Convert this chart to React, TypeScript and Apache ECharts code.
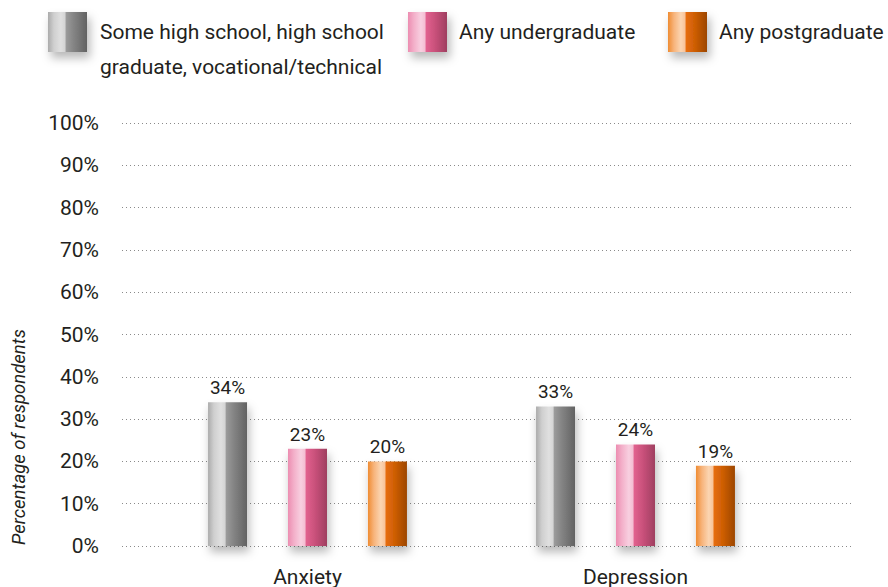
import React, { useEffect, useRef } from "react";
import * as echarts from "echarts";

const categories = ["Anxiety", "Depression"];
const seriesNames = [
  "Some high school, high school\ngraduate, vocational/technical",
  "Any undergraduate",
  "Any postgraduate",
];
const highSchool = [34, 33];
const undergraduate = [23, 24];
const postgraduate = [20, 19];
const yTicks = [0, 10, 20, 30, 40, 50, 60, 70, 80, 90, 100];
const yTitle = "Percentage of respondents";

const FONT = "Roboto, 'Noto Sans', sans-serif";
const TEXT = "#231f20";

const grad = (stops: [number, string][]) =>
  new echarts.graphic.LinearGradient(
    0, 0, 1, 0,
    stops.map(([offset, color]) => ({ offset, color }))
  );

const grayGrad = () =>
  grad([
    [0, "#ababab"],
    [0.15, "#cfcfcf"],
    [0.33, "#e0e0e0"],
    [0.44, "#d4d4d4"],
    [0.46, "#9c9c9c"],
    [0.65, "#858585"],
    [1, "#626262"],
  ]);
const pinkGrad = () =>
  grad([
    [0, "#ec8db1"],
    [0.15, "#f3afc9"],
    [0.33, "#f8cfe0"],
    [0.44, "#f4bdd2"],
    [0.46, "#e2628f"],
    [0.7, "#c8507a"],
    [1, "#9f3f60"],
  ]);
const orangeGrad = () =>
  grad([
    [0, "#ef8c32"],
    [0.15, "#f7b37a"],
    [0.33, "#fbd5b2"],
    [0.44, "#f8c298"],
    [0.46, "#e76d0c"],
    [0.7, "#cc5d05"],
    [1, "#9c4600"],
  ]);

export default function App() {
  const ref = useRef<HTMLDivElement>(null);
  useEffect(() => {
    if (!ref.current) return;
    const chart = echarts.init(ref.current, null, { renderer: "svg" });
    const values = [highSchool, undergraduate, postgraduate];
    const colors = [grayGrad, pinkGrad, orangeGrad];
    const shadow = {
      shadowBlur: 10,
      shadowOffsetX: 2,
      shadowOffsetY: 6,
      shadowColor: "rgba(0,0,0,0.28)",
    };
    const legendPos = [
      { left: 48, top: -20.5, lead: true },
      { left: 408, top: 12, lead: false },
      { left: 668, top: 12, lead: false },
    ];
    chart.setOption({
      animation: false,
      backgroundColor: "#ffffff",
      textStyle: { fontFamily: FONT, color: TEXT },
      legend: legendPos.map((lp, i) => ({
        data: [seriesNames[i]],
        left: lp.left,
        top: lp.top,
        itemWidth: 39,
        itemHeight: 40,
        icon: "rect",
        selectedMode: false,
        padding: 0,
        formatter: (name: string) => (lp.lead ? " \n" + name : name),
        itemStyle: { ...shadow, shadowOffsetX: 3 },
        textStyle: {
          fontFamily: FONT,
          fontSize: 21,
          color: TEXT,
          lineHeight: 35,
          padding: [0, 0, 0, lp.lead ? 8 : 7],
        },
      })),
      grid: [
        { left: 143.5, right: 88.5, top: 123, bottom: 41 },
        { left: 122, right: 35, top: 123, bottom: 41 },
      ],
      xAxis: [
        {
          type: "category",
          gridIndex: 0,
          data: categories,
          axisLine: { show: false },
          axisTick: { show: false },
          axisLabel: { fontFamily: FONT, fontSize: 21, color: TEXT, margin: 20 },
        },
        {
          type: "value",
          gridIndex: 1,
          min: 0,
          max: 1,
          show: false,
        },
      ],
      yAxis: [
        {
          type: "value",
          gridIndex: 0,
          min: 0,
          max: 100,
          interval: 10,
          show: false,
        },
        {
          type: "value",
          gridIndex: 1,
          min: 0,
          max: 100,
          interval: 10,
          axisLine: { show: false },
          axisTick: { show: false },
          axisLabel: {
            fontFamily: FONT,
            fontSize: 21,
            color: TEXT,
            margin: 23,
            formatter: (v: number) => (yTicks.includes(v) ? v + "%" : ""),
          },
          splitLine: {
            lineStyle: { color: "#8a8a8a", type: [1, 3], width: 1 },
          },
        },
      ],
      graphic: [
        {
          type: "text",
          x: 19,
          y: 437,
          rotation: Math.PI / 2,
          style: {
            text: yTitle,
            fontFamily: FONT,
            fontStyle: "italic",
            fontSize: 18.5,
            fill: TEXT,
            align: "center",
            verticalAlign: "middle",
          },
        },
      ],
      series: values.map((vals, i) => ({
        type: "bar",
        name: seriesNames[i],
        xAxisIndex: 0,
        yAxisIndex: 0,
        data: vals,
        barWidth: 39,
        barGap: "105%",
        itemStyle: { color: colors[i](), ...shadow },
        label: {
          show: true,
          position: "top",
          distance: 5,
          formatter: "{c}%",
          fontFamily: FONT,
          fontSize: 19,
          color: TEXT,
        },
      })),
    });
    return () => chart.dispose();
  }, []);
  return (
    <div
      ref={ref}
      style={{ position: "absolute", left: 0, top: 0, width: 888, height: 587 }}
    />
  );
}
